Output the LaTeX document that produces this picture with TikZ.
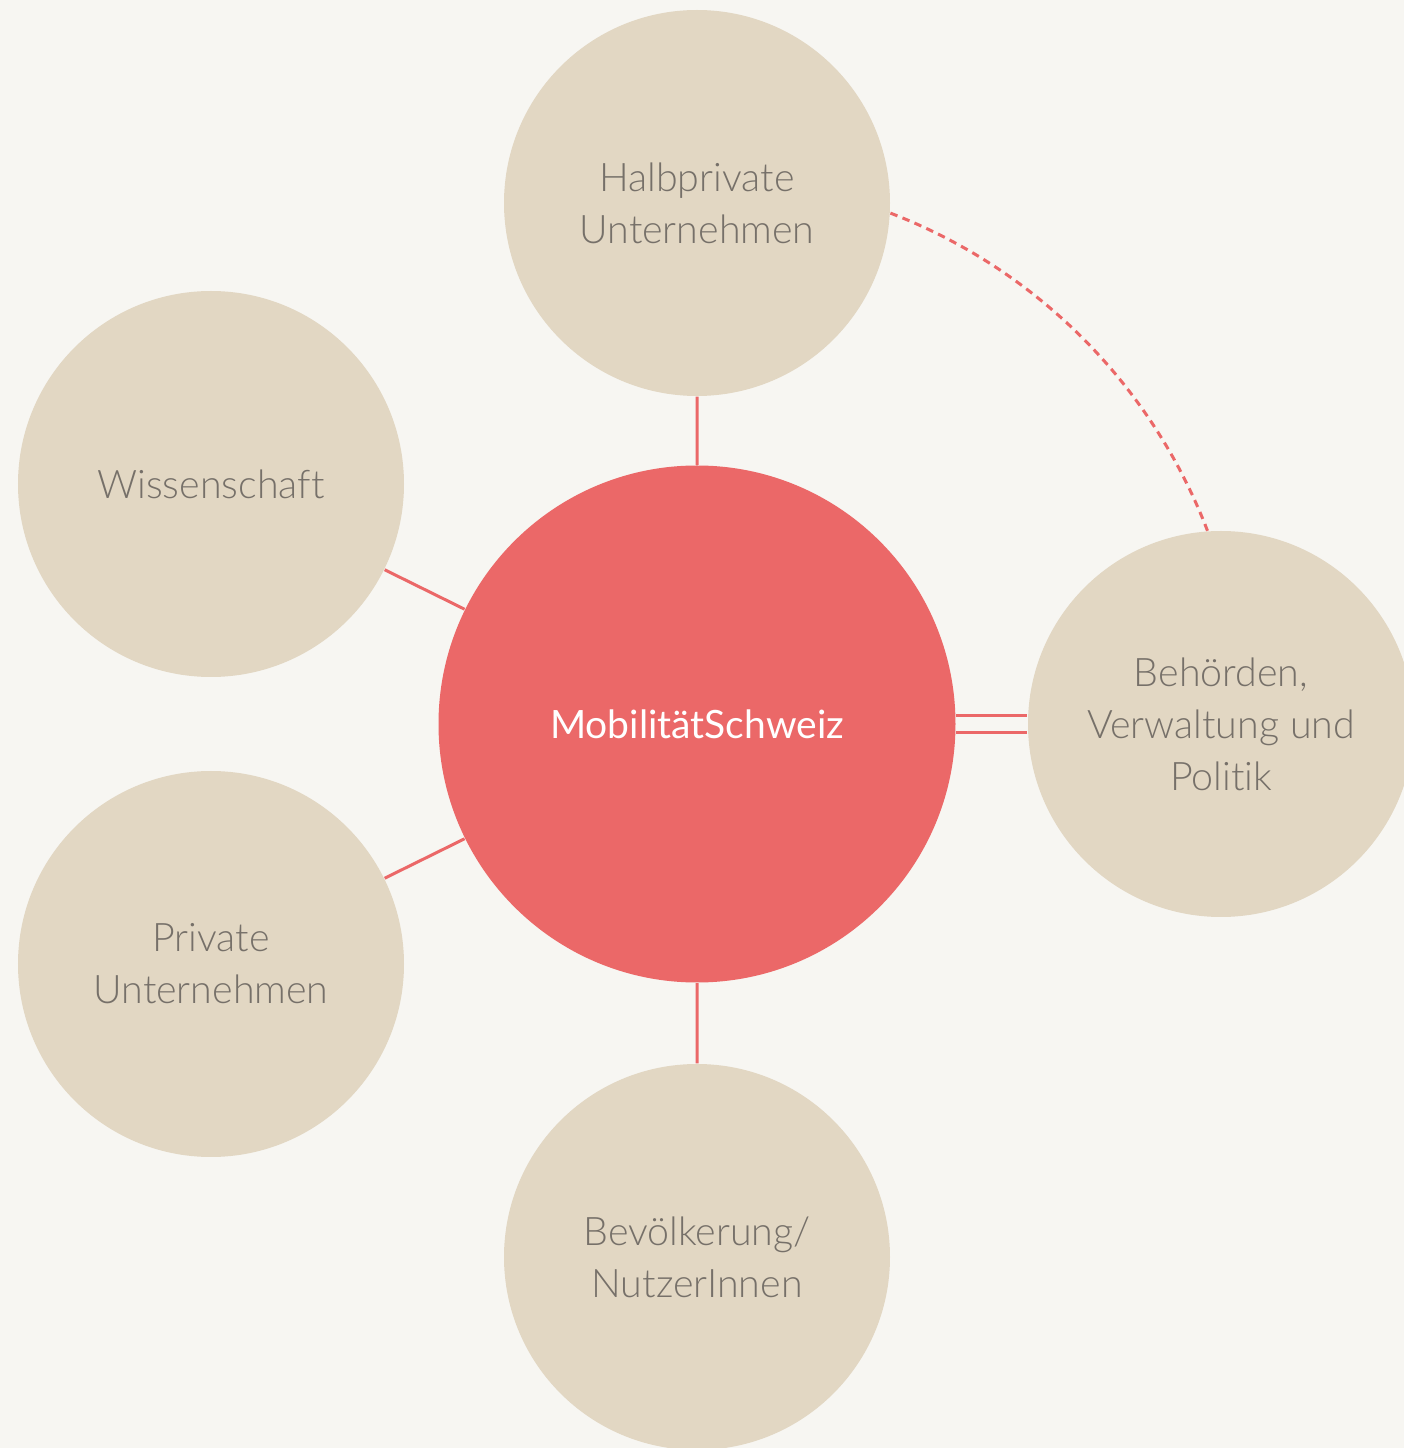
\documentclass[tikz,border=0pt]{standalone}
\usepackage{fontspec}
\setmainfont{Lato}[UprightFont={* Light},BoldFont={*},Ligatures={NoCommon}]
\usepackage{xcolor}
\usepackage{tikz}
\usetikzlibrary{positioning}

\definecolor{fondo}{HTML}{F7F6F2}
\definecolor{sand}{HTML}{E2D7C3}
\definecolor{rot}{HTML}{EB6868}
\definecolor{grau}{HTML}{767069}

\begin{document}
\begin{tikzpicture}[
  kreis/.style={circle,fill=sand,minimum size=3.86cm,inner sep=0pt,text=grau,
    align=center,font=\fontsize{11.2}{14.8}\selectfont},
  mitte/.style={circle,fill=rot,minimum size=5.17cm,inner sep=0pt,text=white,
    font=\bfseries\fontsize{11.1}{14}\selectfont},
  link/.style={draw=rot,line width=0.03cm},
  doppel/.style={link,double=fondo,double distance=0.14cm},
  gestrichelt/.style={link,dash pattern=on 0.075cm off 0.055cm}
]
  \fill[fondo] (0,0) rectangle (14.04,14.48);
  \useasboundingbox (0,0) rectangle (14.04,14.48);

  \node[mitte] (mob)  at (6.97,7.24)  {MobilitätSchweiz};
  \node[kreis] (halb) at (6.97,12.45) {Halbprivate\\Unternehmen};
  \node[kreis] (wiss) at (2.11,9.64)  {Wissenschaft};
  \node[kreis] (priv) at (2.11,4.84)  {Private\\Unternehmen};
  \node[kreis] (bev)  at (6.97,1.91)  {Bevölkerung/\\NutzerInnen};
  \node[kreis] (beh)  at (12.21,7.24) {Behörden,\\Verwaltung und\\Politik};

  \draw[link] (mob)--(halb) (mob)--(wiss) (mob)--(priv) (mob)--(bev);
  \draw[doppel] (mob)--(beh);
  \draw[gestrichelt] (halb.-3) to[out=-21,in=111,looseness=0.89] (beh.94);
\end{tikzpicture}
\end{document}
